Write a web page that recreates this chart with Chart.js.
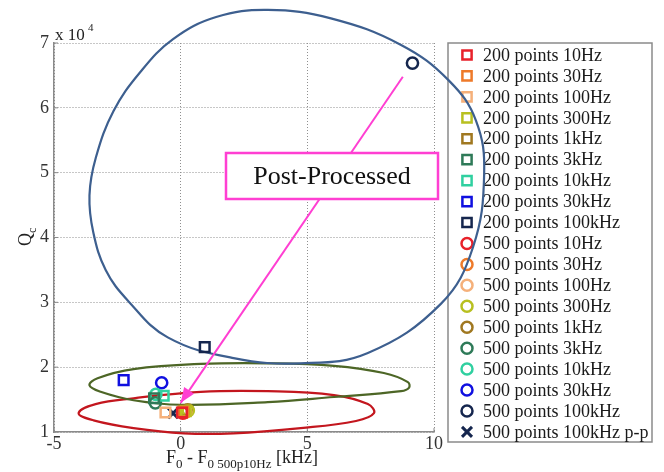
<!DOCTYPE html>
<html>
<head>
<meta charset="utf-8">
<script src="https://cdn.jsdelivr.net/npm/chart.js@4/dist/chart.umd.min.js"></script>
<style>
  html, body { margin: 0; padding: 0; background: #fff; }
  #wrap { width: 664px; height: 472px; }
</style>
</head>
<body>
<div id="wrap"><canvas id="chart1" width="664" height="472"></canvas></div>
<script>
// measured series: offset F0 - F0(500p10Hz) in kHz, and Qc
var seriesLabels = [
  '200 points 10Hz', '200 points 30Hz', '200 points 100Hz', '200 points 300Hz',
  '200 points 1kHz', '200 points 3kHz', '200 points 10kHz', '200 points 30kHz',
  '200 points 100kHz',
  '500 points 10Hz', '500 points 30Hz', '500 points 100Hz', '500 points 300Hz',
  '500 points 1kHz', '500 points 3kHz', '500 points 10kHz', '500 points 30kHz',
  '500 points 100kHz', '500 points 100kHz p-p'
];
var seriesColors = [
  '#e8212a', '#ee7a2a', '#f5b07a', '#b8c020', '#a07820', '#2e7a58', '#30d0a0', '#1010e0', '#15264e',
  '#e8212a', '#ee7a2a', '#f5b07a', '#b8c020', '#a07820', '#2e7a58', '#30d0a0', '#1010e0', '#15264e',
  '#15264e'
];
var seriesMarkers = [
  'rect', 'rect', 'rect', 'rect', 'rect', 'rect', 'rect', 'rect', 'rect',
  'circle', 'circle', 'circle', 'circle', 'circle', 'circle', 'circle', 'circle', 'circle',
  'crossRot'
];
var seriesX = [0.05, 0.1, -0.6, 0.2, 0.15, -1.05, -0.67, -2.25, 0.95,
               0.08, 0.15, 0.2, 0.3, 0.28, -1.0, -0.98, -0.75, 9.15, -0.3];
var seriesY = [13000, 13100, 13000, 13200, 13300, 15200, 15600, 18000, 23100,
               12900, 13000, 13100, 13300, 13400, 14500, 15800, 17600, 66900, 12900];

// hand-drawn loops and arrow of the annotation (closed loops)
var blueLoopX = [3.44, 5.93, 8.70, 10.59, 11.66, 11.98, 11.54, 10.28, 7.39, 4.74, 2.09, -0.51, -2.09, -2.96, -3.45, -3.60, -3.35, -2.65, -1.6, -0.3, 1.4];
var blueLoopY = [75100, 73800, 69700, 64200, 58000, 49800, 38500, 29800, 22200, 20600, 21400, 24600, 30300, 35000, 40800, 46500, 52300, 59500, 65500, 70600, 74000];
var greenLoopX = [-3.60, -3.28, -1.86, 0.79, 3.44, 6.05, 8.02, 8.97, 9.01, 8.70, 6.05, 3.44, 0.0, -1.86, -3.16];
var greenLoopY = [17200, 18300, 19700, 20500, 20600, 20200, 19100, 17700, 16800, 16300, 15400, 14600, 14200, 14900, 16200];
var redLoopX = [-4.03, -3.36, -1.86, 0.79, 3.44, 6.05, 7.39, 7.63, 6.92, 4.74, 2.09, 0.12, -1.86, -3.44];
var redLoopY = [12900, 14300, 15200, 16200, 16300, 15700, 14300, 12900, 11700, 10600, 9800, 9800, 10600, 11800];
var arrowX = [8.77, 0.0];
var arrowY = [64800, 14500];

var serif = "'Liberation Serif', 'DejaVu Serif', serif";
var magenta = '#ff3fd2';

// wrap a closed loop: one extra point at each end so the join stays smooth
function loopPoints(xs, ys) {
  var n = xs.length;
  var pts = [{x: xs[n - 1], y: ys[n - 1]}];
  for (var i = 0; i <= n; i++) pts.push({x: xs[i % n], y: ys[i % n]});
  pts.push({x: xs[1], y: ys[1]});
  return pts;
}

var datasets = seriesLabels.map(function(label, i) {
  return {
    label: label,
    data: [{x: seriesX[i], y: seriesY[i]}],
    pointStyle: seriesMarkers[i],
    pointRadius: seriesMarkers[i] == 'rect' ? 6.8 : (seriesMarkers[i] == 'circle' ? 5.6 : 7),
    borderColor: seriesColors[i],
    backgroundColor: 'rgba(0,0,0,0)',
    borderWidth: seriesMarkers[i] == 'crossRot' ? 3 : 2.5,
    clip: false,
    order: 1
  };
});

function loop(label, xs, ys, color) {
  var pts = loopPoints(xs, ys);
  var last = pts.length - 1;
  return {
    label: label,
    data: pts,
    showLine: true,
    tension: 0.4,
    pointRadius: 0,
    borderColor: color,
    backgroundColor: color,
    borderWidth: 2.2,
    clip: false,
    order: 5,
    segment: {
      borderColor: function(c) {
        return (c.p0DataIndex == 0 || c.p1DataIndex == last) ? 'rgba(0,0,0,0)' : undefined;
      }
    }
  };
}
datasets.push(loop('blue loop', blueLoopX, blueLoopY, '#3d5f8f'));
datasets.push(loop('green loop', greenLoopX, greenLoopY, '#4d6626'));
datasets.push(loop('red loop', redLoopX, redLoopY, '#c3161e'));
datasets.push({
  label: 'arrow',
  data: arrowX.map(function(x, i) { return {x: x, y: arrowY[i]}; }),
  showLine: true,
  tension: 0,
  pointRadius: 0,
  borderColor: magenta,
  borderWidth: 2,
  clip: false,
  order: 0
});
var nSeries = seriesLabels.length;

function drawMarker(ctx, kind, x, y, color) {
  ctx.save();
  ctx.strokeStyle = color;
  ctx.lineWidth = 2.5;
  ctx.beginPath();
  if (kind == 'rect') {
    ctx.rect(x - 4.6, y - 4.6, 9.2, 9.2);
  } else if (kind == 'circle') {
    ctx.arc(x, y, 5.5, 0, Math.PI * 2);
  } else {
    ctx.lineWidth = 3;
    ctx.moveTo(x - 5, y - 5); ctx.lineTo(x + 5, y + 5);
    ctx.moveTo(x + 5, y - 5); ctx.lineTo(x - 5, y + 5);
  }
  ctx.stroke();
  ctx.restore();
}

var annotate = {
  id: 'annotate',
  beforeDatasetsDraw: function(chart) {
    var ctx = chart.ctx;
    var area = chart.chartArea;
    ctx.save();
    // small inward ticks on the left and bottom axes
    ctx.strokeStyle = '#8a8a8a';
    ctx.lineWidth = 1;
    ctx.beginPath();
    chart.scales.y.ticks.forEach(function(t) {
      var py = chart.scales.y.getPixelForValue(t.value);
      ctx.moveTo(area.left, py); ctx.lineTo(area.left + 4, py);
    });
    chart.scales.x.ticks.forEach(function(t) {
      var px = chart.scales.x.getPixelForValue(t.value);
      ctx.moveTo(px, area.bottom); ctx.lineTo(px, area.bottom - 4);
    });
    ctx.stroke();
    // legend
    ctx.fillStyle = '#fff';
    ctx.fillRect(448, 43, 204, 399);
    ctx.strokeStyle = '#8a8a8a';
    ctx.lineWidth = 1.5;
    ctx.strokeRect(448, 43, 204, 399);
    ctx.font = '18px ' + serif;
    ctx.fillStyle = '#1a1a1a';
    ctx.textBaseline = 'middle';
    for (var i = 0; i < nSeries; i++) {
      var yy = 55 + i * 20.94;
      drawMarker(ctx, seriesMarkers[i], 467, yy, seriesColors[i]);
      ctx.fillText(seriesLabels[i], 483, yy + 1);
    }
    ctx.restore();
  },
  afterDatasetsDraw: function(chart) {
    var ctx = chart.ctx;
    var xs = chart.scales.x, ys = chart.scales.y;
    // arrow head
    var x0 = xs.getPixelForValue(arrowX[0]), y0 = ys.getPixelForValue(arrowY[0]);
    var x1 = xs.getPixelForValue(arrowX[1]), y1 = ys.getPixelForValue(arrowY[1]);
    var a = Math.atan2(y1 - y0, x1 - x0);
    ctx.save();
    ctx.fillStyle = magenta;
    ctx.beginPath();
    ctx.moveTo(x1, y1);
    ctx.lineTo(x1 - 15 * Math.cos(a) + 6 * Math.sin(a), y1 - 15 * Math.sin(a) - 6 * Math.cos(a));
    ctx.lineTo(x1 - 15 * Math.cos(a) - 6 * Math.sin(a), y1 - 15 * Math.sin(a) + 6 * Math.cos(a));
    ctx.closePath();
    ctx.fill();
    // label box
    ctx.fillStyle = '#fff';
    ctx.fillRect(226, 153, 212, 46);
    ctx.strokeStyle = magenta;
    ctx.lineWidth = 2.5;
    ctx.strokeRect(226, 153, 212, 46);
    ctx.fillStyle = '#111';
    ctx.font = '26px ' + serif;
    ctx.textAlign = 'center';
    ctx.textBaseline = 'middle';
    ctx.fillText('Post-Processed', 332, 177);
    ctx.restore();
  },
  afterDraw: function(chart) {
    var ctx = chart.ctx;
    ctx.save();
    ctx.fillStyle = '#222';
    ctx.textBaseline = 'alphabetic';
    // exponent
    ctx.font = '17px ' + serif;
    ctx.fillText('x 10', 55, 40);
    ctx.font = '11px ' + serif;
    ctx.fillText('4', 88, 31);
    // x title
    ctx.font = '18px ' + serif;
    var x = 166;
    ctx.fillText('F', x, 463); x += ctx.measureText('F').width;
    ctx.font = '13px ' + serif;
    ctx.fillText('0', x, 468); x += ctx.measureText('0').width;
    ctx.font = '18px ' + serif;
    ctx.fillText(' - F', x, 463); x += ctx.measureText(' - F').width;
    ctx.font = '13px ' + serif;
    ctx.fillText('0 500p10Hz', x, 468); x += ctx.measureText('0 500p10Hz').width;
    ctx.font = '18px ' + serif;
    ctx.fillText(' [kHz]', x, 463);
    // y title
    ctx.translate(31, 238);
    ctx.rotate(-Math.PI / 2);
    ctx.font = '18px ' + serif;
    ctx.fillText('Q', -8, 0);
    ctx.font = '12px ' + serif;
    ctx.fillText('c', 5, 5);
    ctx.restore();
  }
};

var ctx = document.getElementById('chart1').getContext('2d');
var qChart = new Chart(ctx, {
  type: 'scatter',
  data: { datasets: datasets },
  options: {
    responsive: false,
    animation: false,
    layout: { padding: { left: 0, top: 43, right: 230, bottom: 0 } },
    elements: { line: { capBezierPoints: false } },
    plugins: { legend: { display: false }, tooltip: { enabled: false } },
    scales: {
      x: {
        type: 'linear', min: -5, max: 10,
        afterFit: function(scale) { scale.height = 40; },
        grid: { color: '#8f8f8f', lineWidth: 1, drawTicks: false },
        border: { color: '#8a8a8a', width: 1.5, dash: [1, 2] },
        ticks: { stepSize: 5, padding: 1, color: '#333', font: { family: serif, size: 18 } }
      },
      y: {
        min: 10000, max: 70000,
        afterFit: function(scale) { scale.width = 54; },
        grid: { color: '#8f8f8f', lineWidth: 1, drawTicks: false },
        border: { color: '#8a8a8a', width: 1.5, dash: [1, 2] },
        ticks: {
          stepSize: 10000, padding: 5, color: '#333', font: { family: serif, size: 18 },
          callback: function(v) { return v / 10000; }
        }
      }
    }
  },
  plugins: [annotate]
});
</script>
</body>
</html>
